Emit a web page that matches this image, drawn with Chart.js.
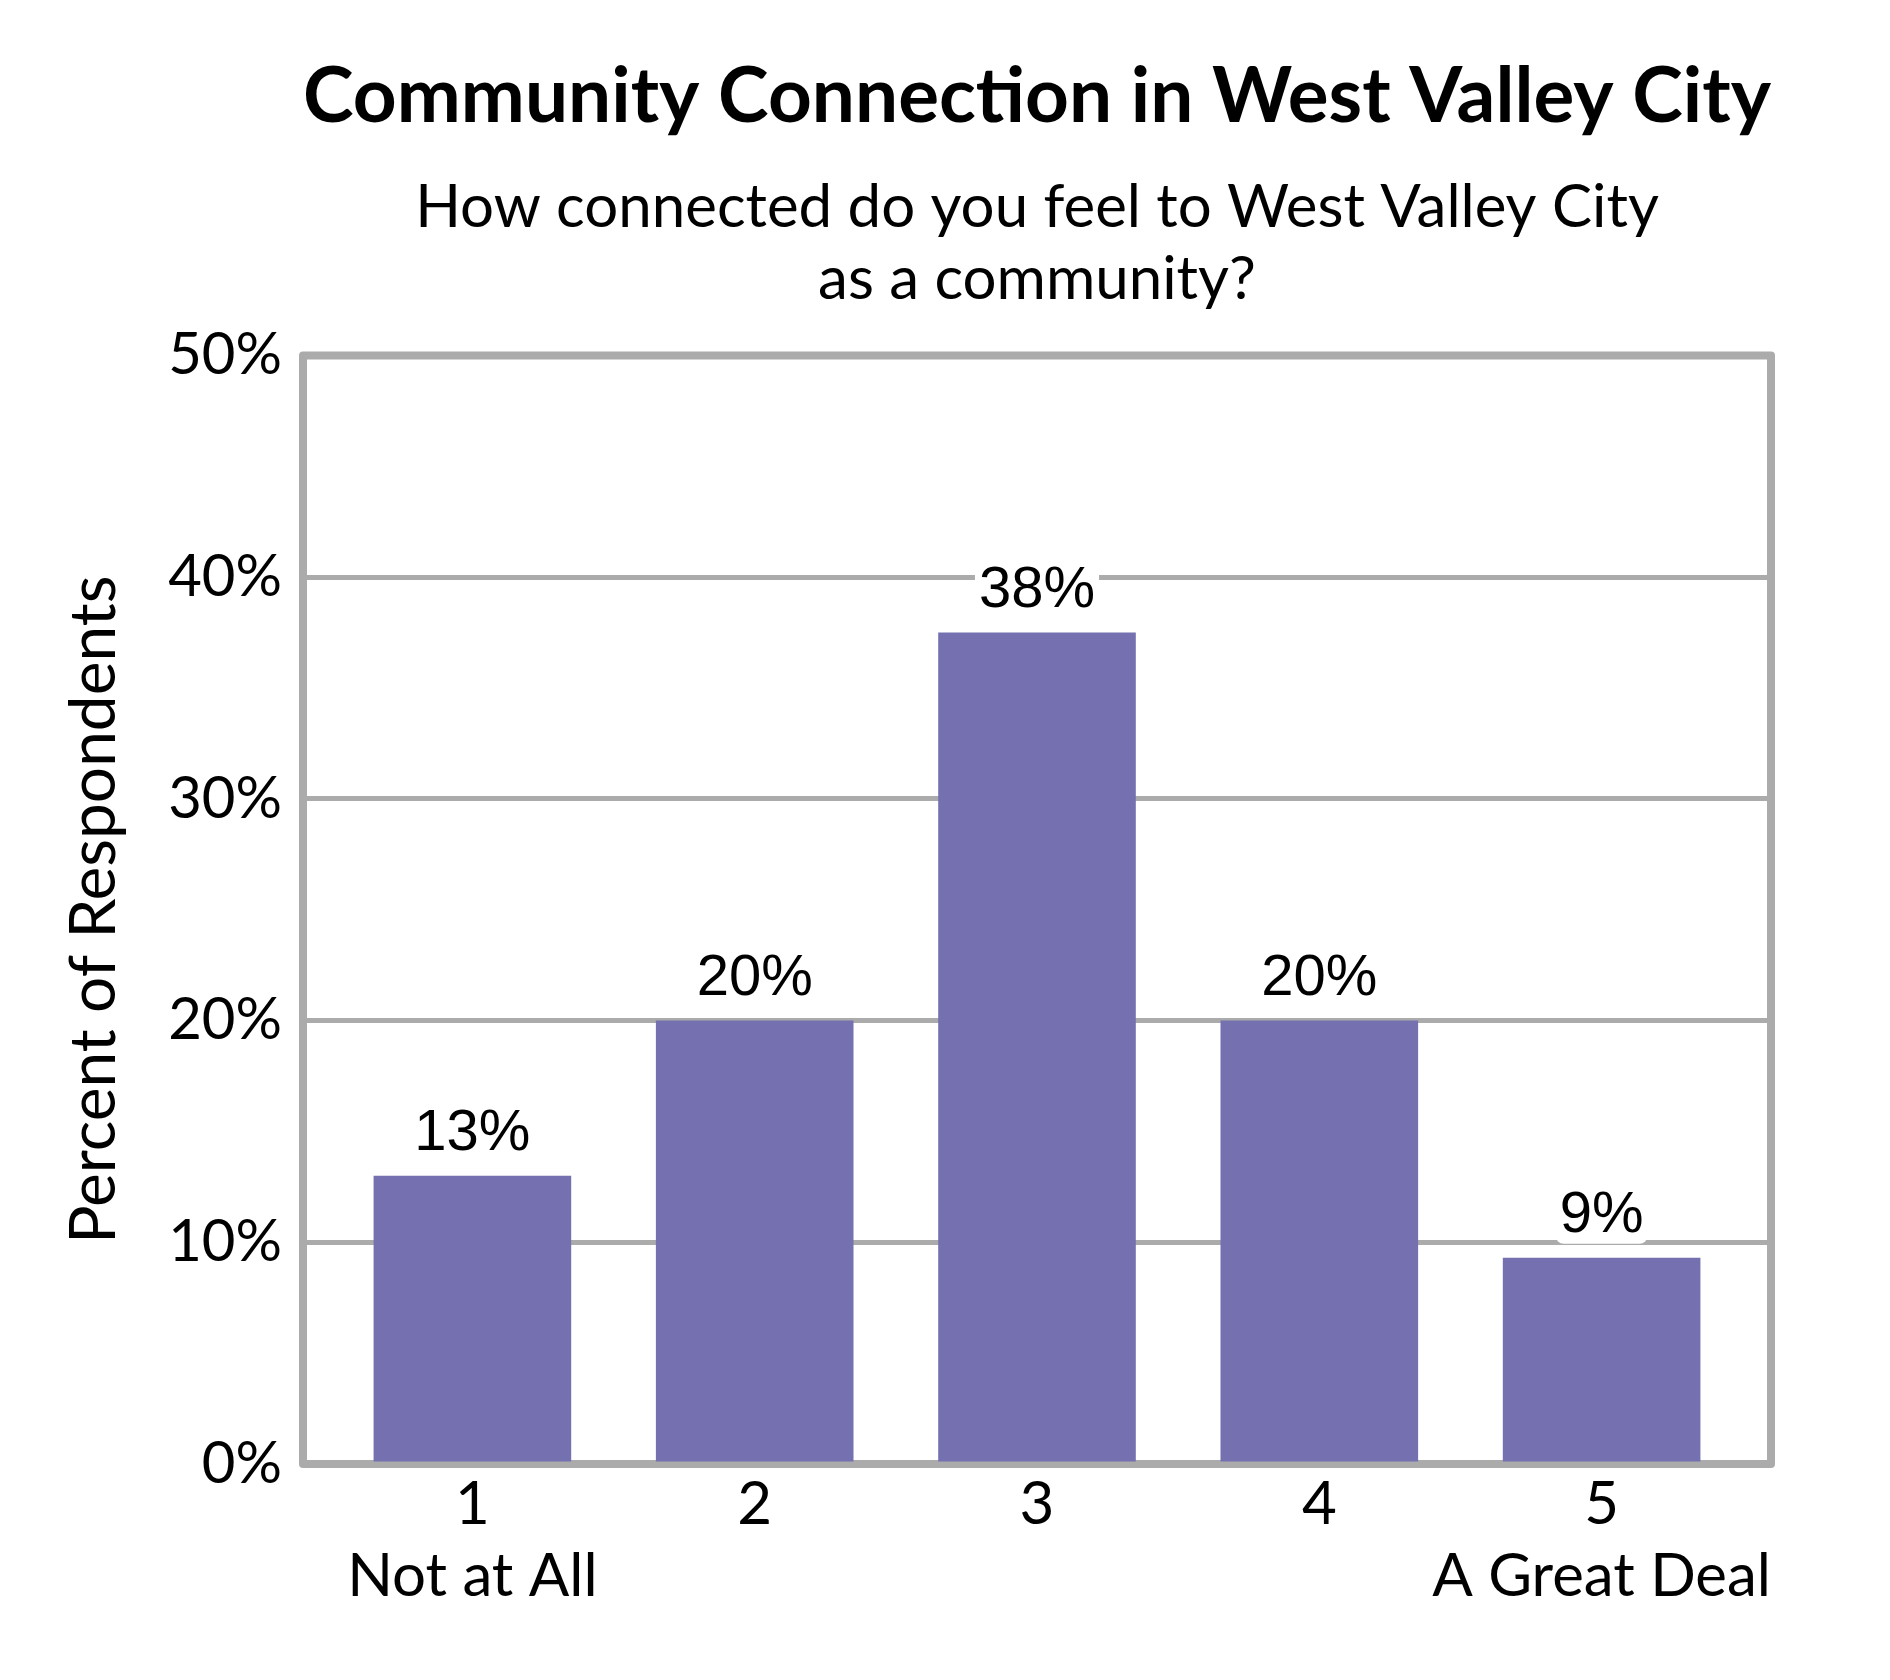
<!DOCTYPE html>
<html>
<head>
  <title>Community Connection in West Valley City</title>
  <meta charset="utf-8" />
  <style>
    html, body { margin: 0; padding: 0; background: #fff; }
    #chart { display: block; }
  </style>
</head>
<body>
<canvas id="chart" width="1890" height="1680"></canvas>

<script src="https://cdn.jsdelivr.net/npm/chart.js"></script>
<script>
  // data
  var categories = [1, 2, 3, 4, 5];
  var categoryNames = ['Not at All', '', '', '', 'A Great Deal'];
  var percents = [13.0, 20.0, 37.5, 20.0, 9.3];
  var yTicks = [0, 10, 20, 30, 40, 50];

  var titleText = 'Community Connection in West Valley City';
  var subtitleText = ['How connected do you feel to West Valley City', 'as a community?'];
  var yTitle = 'Percent of Respondents';

  var grey = '#ababab';
  var barColor = '#7571b1';
  var sans = 'Lato, "Open Sans", sans-serif';

  // grey frame round the plot, under the bars
  var framePlugin = {
    id: 'frame',
    beforeDatasetsDraw: function(chart) {
      var a = chart.chartArea, ctx = chart.ctx;
      ctx.save();
      ctx.strokeStyle = grey;
      ctx.lineWidth = 8;
      ctx.lineJoin = 'round';
      ctx.strokeRect(a.left, a.top, a.right - a.left, a.bottom - a.top);
      ctx.restore();
    }
  };

  // value labels on a white box above each bar
  var valueLabels = {
    id: 'valueLabels',
    afterDatasetsDraw: function(chart) {
      var ctx = chart.ctx;
      var meta = chart.getDatasetMeta(0);
      ctx.save();
      ctx.font = '58px "Liberation Sans", Arial, sans-serif';
      ctx.textAlign = 'center';
      ctx.textBaseline = 'alphabetic';
      meta.data.forEach(function(bar, i) {
        var txt = Math.round(percents[i]) + '%';
        var w = ctx.measureText(txt).width;
        var y = bar.y - 26;
        ctx.fillStyle = '#fff';
        ctx.beginPath();
        ctx.roundRect(bar.x - w / 2 - 4, y - 47, w + 8, 59, 8);
        ctx.fill();
        ctx.fillStyle = '#000';
        ctx.fillText(txt, bar.x, y);
      });
      ctx.restore();
    }
  };

  var ctx = document.getElementById('chart').getContext('2d');
  var chart = new Chart(ctx, {
    type: 'bar',
    data: {
      datasets: [{
        data: categories.map(function(c, i) { return { x: c, y: percents[i] }; }),
        backgroundColor: barColor,
        borderWidth: 0,
        categoryPercentage: 1,
        barPercentage: 0.7
      }]
    },
    options: {
      responsive: false,
      animation: false,
      devicePixelRatio: 1,
      layout: { padding: { left: 0, right: 119, top: 0, bottom: 0 } },
      plugins: {
        legend: { display: false },
        tooltip: { enabled: false },
        title: {
          display: true,
          text: titleText,
          fullSize: false,
          color: '#000',
          font: { family: sans, size: 77, weight: 'bold', lineHeight: 1.2 },
          padding: { top: 51, bottom: 0 }
        },
        subtitle: {
          display: true,
          text: subtitleText,
          fullSize: false,
          color: '#000',
          font: { family: sans, size: 60, lineHeight: 1.2 },
          padding: { top: 28, bottom: 40 }
        }
      },
      scales: {
        x: {
          type: 'linear',
          offset: false,
          min: 0.4,
          max: 5.6,
          grid: { display: false, drawTicks: false },
          border: { display: false },
          afterFit: function(scale) { scale.height = 216; },
          ticks: {
            stepSize: 1,
            includeBounds: false,
            autoSkip: false,
            maxRotation: 0,
            padding: 5,
            color: '#000',
            font: { family: sans, size: 60, lineHeight: 1.2 },
            callback: function(v) {
              var i = categories.indexOf(v);
              if (i < 0) return '';
              return categoryNames[i] ? [String(v), categoryNames[i]] : String(v);
            }
          }
        },
        y: {
          min: yTicks[0],
          max: yTicks[yTicks.length - 1],
          grid: { color: grey, lineWidth: 5, drawTicks: false },
          border: { display: false },
          afterFit: function(scale) { scale.width = 303; },
          ticks: {
            stepSize: 10,
            padding: 21,
            color: '#000',
            font: { family: sans, size: 58 },
            callback: function(v) { return v + '%'; }
          },
          title: {
            display: true,
            text: yTitle,
            color: '#000',
            font: { family: sans, size: 64, lineHeight: 1.2 },
            padding: { top: 56, bottom: 0 }
          }
        }
      }
    },
    plugins: [framePlugin, valueLabels]
  });
</script>
</body>
</html>
